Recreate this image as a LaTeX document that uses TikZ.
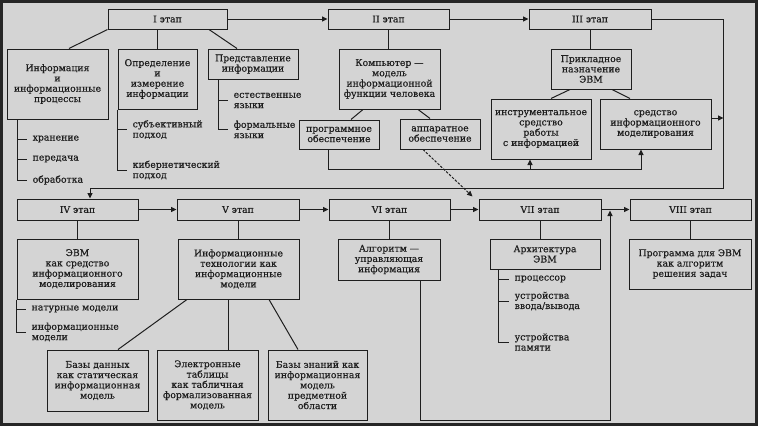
\documentclass[tikz,border=0pt]{standalone}
\usepackage{fontspec}
\setmainfont{DejaVu Serif}[BoldFont={DejaVu Serif}, BoldFeatures={FakeBold=0.5}]
\usetikzlibrary{arrows.meta,calc}
\definecolor{bg}{RGB}{212,212,212}
\definecolor{ink}{RGB}{30,30,30}
\newcommand\diafont{\fontsize{9.3}{10.3}\selectfont\bfseries}
\begin{document}
\begin{tikzpicture}[x=1pt,y=-1pt,
  box/.style={draw=ink, line width=1pt, align=center, inner sep=1pt, font=\diafont, text=ink},
  lbl/.style={align=left, anchor=west, inner xsep=5.5pt, inner ysep=0pt, font=\diafont, text=ink},
  ln/.style={draw=ink, line width=1pt},
  arr/.style={ln, -{Triangle[length=5.5pt,width=5pt]}},
]
\fill[bg] (0,0) rectangle (758,426);
\useasboundingbox (0,0) rectangle (758,426);
\draw[line width=3pt, black!85] (1.5,1.5) rectangle (756.5,424.5);

% stages
\node[box, minimum width=119pt, minimum height=20pt] (s1) at (167.5,19) {I этап};
\node[box, minimum width=121pt, minimum height=20pt] (s2) at (388.5,19) {II этап};
\node[box, minimum width=122pt, minimum height=20pt] (s3) at (590,19) {III этап};
\node[box, minimum width=121pt, minimum height=21pt] (s4) at (77.5,209.5) {IV этап};
\node[box, minimum width=122pt, minimum height=21pt] (s5) at (238,209.5) {V этап};
\node[box, minimum width=121pt, minimum height=21pt] (s6) at (389.5,209.5) {VI этап};
\node[box, minimum width=122pt, minimum height=21pt] (s7) at (540,209.5) {VII этап};
\node[box, minimum width=121pt, minimum height=21pt] (s8) at (690.5,209.5) {VIII этап};

% stage I content
\node[box, minimum width=101pt, minimum height=70pt] (inf) at (57.5,84) {Информация\\и\\информационные\\процессы};
\node[box, minimum width=79pt, minimum height=60pt] (opr) at (157.5,79) {Определение\\и\\измерение\\информации};
\node[box, minimum width=90pt, minimum height=30pt] (pred) at (253,64) {Представление\\информации};

% stage II content
\node[box, minimum width=101pt, minimum height=60pt] (comp) at (389.5,79) {Компьютер —\\модель\\информационной\\функции человека};
\node[box, minimum width=80pt, minimum height=29pt] (progr) at (339,134.5) {программное\\обеспечение};
\node[box, minimum width=80pt, minimum height=30pt] (app) at (440,134) {аппаратное\\обеспечение};

% stage III content
\node[box, minimum width=80pt, minimum height=40pt] (prikl) at (591,69) {Прикладное\\назначение\\ЭВМ};
\node[box, minimum width=100pt, minimum height=60pt] (instr) at (541,129) {инструментальное\\средство\\работы\\с информацией};
\node[box, minimum width=111pt, minimum height=50pt] (sred) at (655.5,124) {средство\\информационного\\моделирования};

% lower stages content
\node[box, minimum width=121pt, minimum height=60pt] (evm) at (77.5,269) {ЭВМ\\как средство\\информационного\\моделирования};
\node[box, minimum width=121pt, minimum height=60pt] (it) at (238.5,269) {Информационные\\технологии как\\информационные\\модели};
\node[box, minimum width=102pt, minimum height=41pt] (alg) at (389,259.5) {Алгоритм —\\управляющая\\информация};
\node[box, minimum width=110pt, minimum height=30pt] (arch) at (545,254) {Архитектура\\ЭВМ};
\node[box, minimum width=122pt, minimum height=50pt] (prog) at (690,264) {Программа для ЭВМ\\как алгоритм\\решения задач};
\node[box, minimum width=101pt, minimum height=61pt] (bd) at (97.5,380.5) {Базы данных\\как статическая\\информационная\\модель};
\node[box, minimum width=101pt, minimum height=70pt] (et) at (207.5,385) {Электронные\\таблицы\\как табличная\\формализованная\\модель};
\node[box, minimum width=99pt, minimum height=70pt] (bz) at (317.5,385) {Базы знаний как\\информационная\\модель\\предметной\\области};

% list labels
\node[lbl] (i1) at (27,139) {хранение};
\node[lbl] (i2) at (27,159) {передача};
\node[lbl] (i3) at (27,180) {обработка};
\node[lbl] (o1) at (127,129.5) {субъективный\\подход};
\node[lbl] (o2) at (127,170) {кибернетический\\подход};
\node[lbl] (p1) at (228,100.5) {естественные\\языки};
\node[lbl] (p2) at (228,129.5) {формальные\\языки};
\node[lbl] (e1) at (26,309) {натурные модели};
\node[lbl] (e2) at (26,332) {информационные\\модели};
\node[lbl] (a1) at (509,279) {процессор};
\node[lbl] (a2) at (509,301) {устройства\\ввода/вывода};
\node[lbl] (a3) at (509,342) {устройства\\памяти};

% list connectors
\draw[ln] ([xshift=11pt]inf.south west) |- (i1.west) ([xshift=11pt]inf.south west) |- (i2.west) ([xshift=11pt]inf.south west) |- (i3.west);
\draw[ln] (opr.south west) |- (o1.west) (opr.south west) |- (o2.west);
\draw[ln] ([xshift=11pt]pred.south west) |- (p1.west) ([xshift=11pt]pred.south west) |- (p2.west);
\draw[ln] (evm.south west) |- (e1.west) (evm.south west) |- (e2.west);
\draw[ln] ([xshift=9pt]arch.south west) |- (a1.west) ([xshift=9pt]arch.south west) |- (a2.west) ([xshift=9pt]arch.south west) |- (a3.west);

% stage arrows
\draw[arr] (s1.east) -- (s1.east -| s2.west);
\draw[arr] (s2.east) -- (s3.west);
\draw[arr] (s4.east) -- (s5.west);
\draw[arr] (s5.east) -- (s6.west);
\draw[arr] (s6.east) -- (s7.west);
\draw[arr] (s7.east) -- (s8.west);

% stage I links
\draw[ln] (s1.south west) -- ([xshift=11.5pt]inf.north);
\draw[ln] (opr.north |- s1.south) -- (opr.north);
\draw[ln] ([xshift=41.5pt]s1.south) -- ([xshift=-16pt]pred.north);

% stage II links
\draw[ln] (s2.south) -- (s2.south |- comp.north);
\draw[ln] ([xshift=-26.5pt]comp.south) -- ([xshift=12pt]progr.north);
\draw[ln] ([xshift=28.5pt]comp.south) -- ([xshift=-10pt]app.north);
\draw[arr] ([xshift=-11pt]progr.south) -- ++(0,20) -| ([xshift=-14.5pt]sred.south);
\draw[arr] ([xshift=-11pt,yshift=-10pt]instr.south) -- ([xshift=-11pt]instr.south);
\draw[arr, dashed, dash pattern=on 2.5pt off 1.5pt] ([xshift=-17pt]app.south) -- ([xshift=-6pt,yshift=2pt]s7.north west);

% stage III links
\draw[ln] (s3.south) -- (s3.south |- prikl.north);
\draw[ln] ([xshift=-21pt]prikl.south) -- ([xshift=10pt]instr.north);
\draw[ln] ([xshift=21pt]prikl.south) -- ([xshift=-25.5pt]sred.north);
\coordinate (c1) at (723,188);
\draw[arr] (s3.east) -| (c1) -| ([xshift=12.5pt]s4.north);
\draw[arr] ([yshift=6pt]sred.east) -- ++(12,0);

% lower links
\draw[ln] (s4.south) -- (evm.north);
\draw[ln] (s5.south) -- (s5.south |- it.north);
\draw[ln] (s6.south) -- (s6.south |- alg.north);
\draw[ln] (s7.south) -- (s7.south |- arch.north);
\draw[ln] (s8.south) -- (s8.south |- prog.north);
\draw[ln] ([xshift=-51.5pt]it.south) -- ([xshift=20.5pt]bd.north);
\draw[ln] ([xshift=-10.5pt]it.south) -- ([xshift=-10.5pt]it.south |- et.north);
\draw[ln] ([xshift=30.5pt]it.south) -- ([xshift=-19.5pt]bz.north);
\coordinate (c2) at (610,420);
\draw[arr] ([xshift=31pt]alg.south) |- (c2) -- ([yshift=-1pt]c2 |- s7.east);
\end{tikzpicture}
\end{document}
